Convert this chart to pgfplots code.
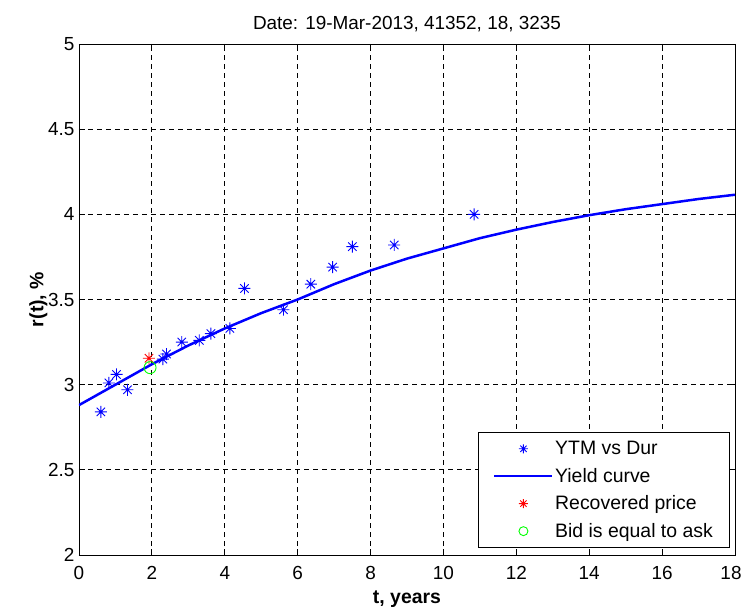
\documentclass[border=0pt]{standalone}
\usepackage{fontspec}
\setmainfont{Liberation Sans}
\usepackage{pgfplots}
\pgfplotsset{compat=1.18}
\pgfdeclareplotmark{mstar}{%
  \pgfpathmoveto{\pgfqpoint{-\pgfplotmarksize}{0pt}}\pgfpathlineto{\pgfqpoint{\pgfplotmarksize}{0pt}}%
  \pgfpathmoveto{\pgfqpoint{0pt}{-\pgfplotmarksize}}\pgfpathlineto{\pgfqpoint{0pt}{\pgfplotmarksize}}%
  \pgfpathmoveto{\pgfqpoint{-0.7\pgfplotmarksize}{-0.7\pgfplotmarksize}}\pgfpathlineto{\pgfqpoint{0.7\pgfplotmarksize}{0.7\pgfplotmarksize}}%
  \pgfpathmoveto{\pgfqpoint{-0.7\pgfplotmarksize}{0.7\pgfplotmarksize}}\pgfpathlineto{\pgfqpoint{0.7\pgfplotmarksize}{-0.7\pgfplotmarksize}}%
  \pgfusepathqstroke}
\begin{document}
\begin{tikzpicture}
\begin{axis}[
  scale only axis, width=656bp, height=511bp,
  xmin=0, xmax=18, ymin=2, ymax=5,
  xtick={0,2,...,18}, ytick={2,2.5,3,3.5,4,4.5,5},
  xticklabels={0,2,4,6,8,10,12,14,16,18\hspace*{8bp}},
  yticklabels={2,2.5,3,3.5,4,4.5,5},
  grid=major, major grid style={black, dash pattern=on 5bp off 4bp, line width=0.8pt},
  tick align=inside, major tick length=6bp,
  tick style={black, line width=0.8pt},
  axis line style={line width=0.9pt},
  /pgf/number format/assume math mode=true,
  tick label style={font=\fontsize{19}{22}\selectfont},
  xticklabel style={yshift=-8bp},
  yticklabel style={xshift=-1bp},
  title={Date: 19-Mar-2013, 41352, 18, 3235},
  title style={font=\fontsize{19}{22}\selectfont, yshift=3bp},
  xlabel={\textbf{t, years}}, ylabel={\textbf{r(t), \%}},
  label style={font=\fontsize{19.5}{22}\selectfont},
  xlabel style={yshift=-4bp},
  ylabel style={yshift=-6bp},
  legend style={at={(0.992,0.014)}, anchor=south east, font=\fontsize{19.5}{22}\selectfont,
    draw=black, line width=0.8pt, inner xsep=15bp, inner ysep=7bp, row sep=9bp, cells={anchor=west},
    nodes={inner sep=1.5bp}, /tikz/every even column/.append style={column sep=8bp}},
  legend image code/.code={\draw[mark repeat=2,mark phase=2,#1] plot coordinates {(0bp,0bp)(29bp,0bp)(58bp,0bp)};},
  legend image post style={mark size=4.5bp},
  legend cell align=left,
]
\addplot[only marks, blue, mark=mstar, mark size=6bp, line width=0.9pt] coordinates {
(0.60,2.84) (0.82,3.01) (1.03,3.06) (1.33,2.97) (2.30,3.15) (2.40,3.18) (2.82,3.25)
(3.30,3.26) (3.62,3.30) (4.14,3.33) (4.54,3.565) (5.61,3.44) (6.36,3.59)
(6.96,3.69) (7.50,3.81) (8.65,3.82) (10.84,4.00)};
\addlegendentry{YTM vs Dur}
\addplot[blue, line width=2.5bp, no marks] coordinates {
(0,2.88) (1,3.00) (2,3.12) (3,3.23) (4,3.33) (5,3.42) (6,3.50) (7,3.59) (8,3.67)
(9,3.74) (10,3.80) (11,3.86) (12,3.91) (13,3.955) (14,3.995) (15,4.03) (16,4.06)
(17,4.09) (18,4.115)};
\addlegendentry{Yield curve}
\addplot[only marks, red, mark=mstar, mark size=6bp, line width=0.9pt] coordinates {(1.92,3.155)};
\addlegendentry{Recovered price}
\addplot[only marks, green, mark=o, mark size=6bp, line width=0.9pt] coordinates {(1.95,3.10)};
\addlegendentry{Bid is equal to ask}
\end{axis}
\pgfresetboundingbox
\path (-79bp,-58bp) rectangle (663bp,555bp);
\end{tikzpicture}
\end{document}
